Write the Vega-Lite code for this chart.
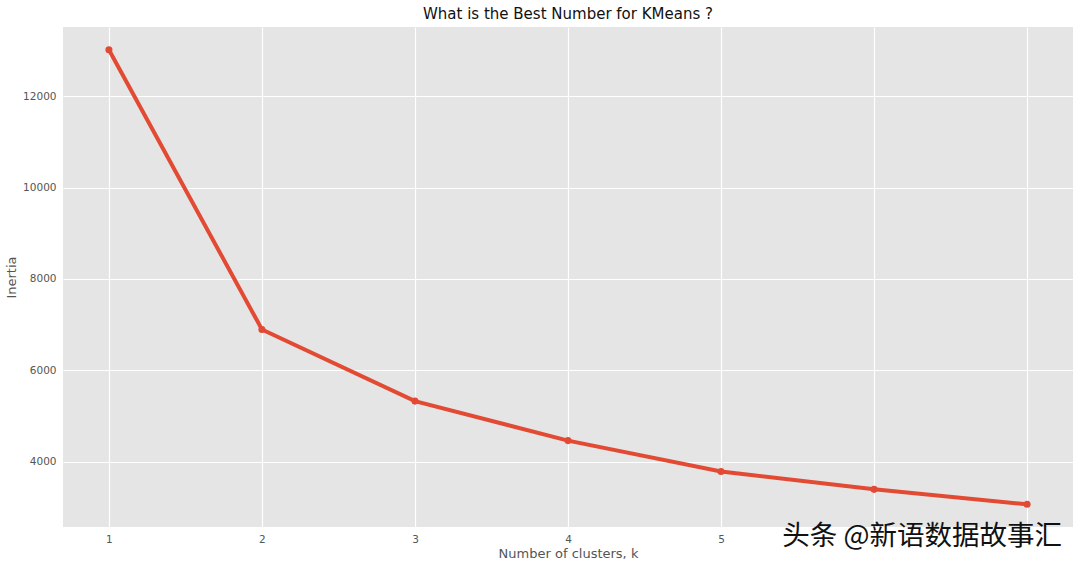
{
  "$schema": "https://vega.github.io/schema/vega-lite/v6.json",
  "width": 1010,
  "height": 500,
  "autosize": {"type": "none"},
  "padding": {"left": 63, "top": 27, "right": 7, "bottom": 39},
  "background": "white",
  "title": {"text": "What is the Best Number for KMeans ?", "font": "DejaVu Sans", "fontSize": 15, "fontWeight": "normal", "color": "#111111", "offset": 5},
  "config": {
    "view": {"fill": "#E5E5E5", "stroke": null},
    "axis": {"labelFont": "DejaVu Sans", "titleFont": "DejaVu Sans", "labelFontSize": 10.5, "titleFontSize": 13, "labelColor": "#555555", "titleColor": "#555555", "titleFontWeight": "normal", "gridColor": "#FFFFFF", "gridWidth": 1.2, "domain": false, "ticks": false, "labelPadding": 7}
  },
  "data": {"values": [
    {"k": 1, "inertia": 13024},
    {"k": 2, "inertia": 6894},
    {"k": 3, "inertia": 5324},
    {"k": 4, "inertia": 4458},
    {"k": 5, "inertia": 3782},
    {"k": 6, "inertia": 3390},
    {"k": 7, "inertia": 3063}
  ]},
  "encoding": {
    "x": {"field": "k", "type": "quantitative", "scale": {"domain": [0.7, 7.3], "nice": false, "zero": false}, "axis": {"values": [1,2,3,4,5,6,7], "labelExpr": "datum.value <= 5 ? datum.label : ''", "title": "Number of clusters, k", "titlePadding": 3}},
    "y": {"field": "inertia", "type": "quantitative", "scale": {"domain": [2565, 13522], "nice": false, "zero": false}, "axis": {"values": [4000,6000,8000,10000,12000], "format": "d", "title": "Inertia", "titlePadding": 4}}
  },
  "layer": [
    {"mark": {"type": "line", "color": "#E24A33", "strokeWidth": 4}},
    {"mark": {"type": "point", "filled": true, "color": "#E24A33", "size": 50, "opacity": 1}},
    {
      "data": {"values": [{"wx": 5.4, "wy": 2346, "label": "头条 @新语数据故事汇"}]},
      "mark": {"type": "text", "align": "left", "baseline": "middle", "font": "Noto Sans CJK SC", "fontSize": 27.5, "fill": "#111111"},
      "encoding": {
        "x": {"field": "wx", "type": "quantitative"},
        "y": {"field": "wy", "type": "quantitative"},
        "text": {"field": "label"}
      }
    }
  ]
}
